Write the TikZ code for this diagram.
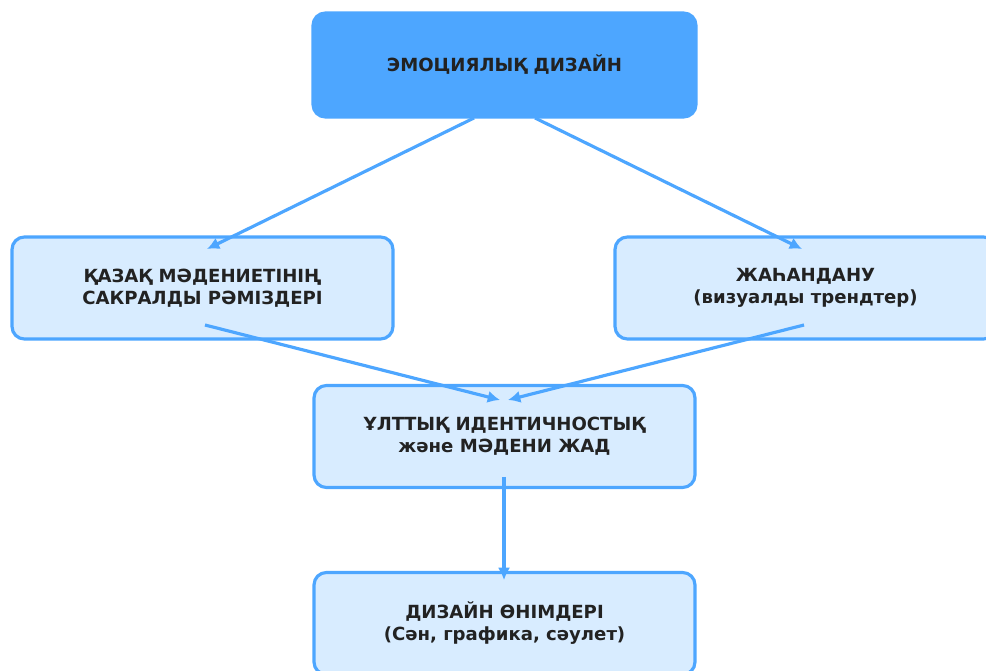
\documentclass[tikz,border=0pt]{standalone}
\usepackage{fontspec}
\setmainfont{DejaVu Sans}
\usetikzlibrary{arrows.meta}
\definecolor{accent}{RGB}{77,166,255}
\definecolor{pale}{RGB}{216,236,255}
\definecolor{ink}{RGB}{34,34,34}
\tikzset{
  box/.style={draw=accent, line width=1.8pt, rounded corners=7pt, fill=pale,
    minimum width=7.62cm, minimum height=2.04cm, align=center, text=ink,
    font=\bfseries\fontsize{10.3}{12.5}\selectfont},
  link/.style={draw=accent, line width=1.8pt, -{Latex[length=7pt,width=7pt]}}
}
\begin{document}
\begin{tikzpicture}[x=0.02cm,y=-0.02cm]
  \useasboundingbox (0,0) rectangle (986,671);
  \draw (504.5,65) node[box, fill=accent, minimum width=7.66cm, minimum height=2.08cm] (emo) {ЭМОЦИЯЛЫҚ ДИЗАЙН};
  \draw (202.5,288) node[box] (kazak) {ҚАЗАҚ МӘДЕНИЕТІНІҢ\\САКРАЛДЫ РӘМІЗДЕРІ};
  \draw (805.5,288) node[box] (jahan) {ЖАҺАНДАНУ\\(визуалды трендтер)};
  \draw (504.5,436.5) node[box] (ult) {ҰЛТТЫҚ ИДЕНТИЧНОСТЫҚ\\және МӘДЕНИ ЖАД};
  \draw (504.5,623.5) node[box] (onim) {ДИЗАЙН ӨНІМДЕРІ\\(Сән, графика, сәулет)};

  \coordinate (emoL) at (474,118);
  \coordinate (emoR) at (535,118);
  \coordinate (kazakIn) at (207,249);
  \coordinate (jahanIn) at (802,249);
  \coordinate (kazakOut) at (205,325);
  \coordinate (jahanOut) at (804,325);
  \coordinate (ultInL) at (500,400);
  \coordinate (ultInR) at (508,400);
  \coordinate (ultOut) at (504,477);
  \coordinate (onimIn) at (504,580);

    \draw[link] (emoL) -- (kazakIn);
    \draw[link] (emoR) -- (jahanIn);
    \draw[link] (kazakOut) -- (ultInL);
    \draw[link] (jahanOut) -- (ultInR);
    \draw[link] (ultOut) -- (onimIn);
\end{tikzpicture}
\end{document}
